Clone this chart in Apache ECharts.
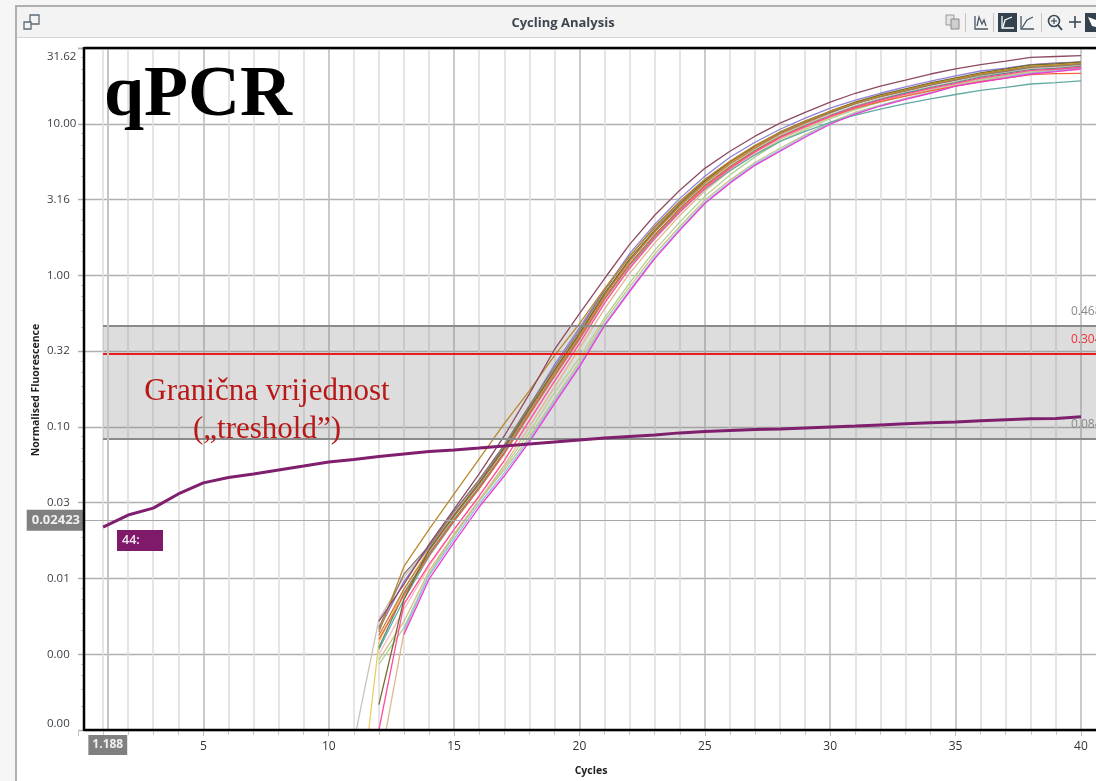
<!DOCTYPE html>
<html><head><meta charset="utf-8">
<style>html,body{margin:0;padding:0;background:#fff;overflow:hidden}#c{width:1096px;height:781px}</style>
<script src="https://cdn.jsdelivr.net/npm/echarts@6/dist/echarts.min.js"></script>
</head><body><div id="c"></div>
<script>
const cycles = [1,2,3,4,5,6,7,8,9,10,11,12,13,14,15,16,17,18,19,20,21,22,23,24,25,26,27,28,29,30,31,32,33,34,35,36,37,38,39,40];
const sample44 = [.0218,.0262,.0291,.0361,.0427,.0464,.0489,.0520,.0552,.0587,.0610,.0638,.0663,.0689,.0705,.0726,.0748,.0772,.0796,.0820,.0846,.0865,.0885,.0913,.0933,.0948,.0962,.0970,.0985,.1,.1015,.1031,.1047,.1063,.1079,.1096,.1113,.1130,.1138,.1165];
const ampCycles = [11,12,13,14,15,16,17,18,19,20,21,22,23,24,25,26,27,28,29,30,31,32,33,34,35,36,37,38,39,40];
const beige = [.00083,.00537,.0102,.0160,.0265,.0430,.0730,.130,.232,.405,.742,1.24,1.92,2.84,4.02,5.34,6.80,8.40,9.90,11.5,13.2,14.7,16.1,17.6,19.0,20.6,21.8,23.2,23.6,24.3];
const yellow = [.00014,.00378,.00850,.0158,.0262,.0425,.0722,.132,.236,.415,.76,1.27,1.98,2.92,4.14,5.52,7.05,8.73,10.4,12.1,13.9,15.5,16.9,18.5,20.0,21.6,22.9,24.4,24.8,25.5];
const tan = [null,.00055,.00441,.0107,.0196,.0330,.0560,.100,.182,.33,.60,1.03,1.63,2.48,3.60,4.90,6.30,7.90,9.40,11.0,12.6,14.0,15.4,16.8,18.2,19.7,20.9,22.2,22.6,23.3];
const lightPink = [null,.00315,.00625,.0120,.0210,.0350,.0600,.110,.200,.360,.670,1.13,1.78,2.67,3.81,5.10,6.54,8.12,9.60,11.1,12.7,14.1,15.4,16.8,18.1,19.5,20.6,21.9,22.2,22.8];
const lightGreen = [null,.00271,.00474,.0107,.0190,.0325,.0540,.0920,.168,.285,.525,.89,1.46,2.25,3.32,4.60,6.05,7.65,9.15,10.8,12.4,13.9,15.3,16.7,18.0,19.5,20.7,22.0,22.4,23.0];
const khaki = [null,.0029,.0052,.0112,.0195,.0325,.0520,.0860,.152,.268,.50,.84,1.38,2.10,3.14,4.25,5.55,6.9,8.45,10.2,11.9,13.3,14.7,16.1,17.9,19.1,20.4,21.7,22.6,23.5];
const lightBlue = [null,null,.0046,.0104,.0182,.0310,.0495,.0825,.147,.256,.478,.80,1.32,2.02,3.03,4.12,5.42,6.7,8.28,10.05,11.7,13.2,14.6,16.0,17.8,19.0,20.2,21.5,22.3,23.2];
const teal = [null,.0034,.00729,.0140,.0238,.0391,.0665,.120,.215,.378,.695,1.16,1.79,2.64,3.71,4.91,6.24,7.65,8.9,10.2,11.4,12.5,13.6,14.6,15.6,16.6,17.4,18.3,18.7,19.2];
const seaGreen = [null,.00350,.0080,.0146,.0245,.0400,.0680,.123,.220,.386,.710,1.19,1.85,2.75,3.91,5.21,6.65,8.24,9.73,11.3,13.0,14.5,15.9,17.3,18.7,20.3,21.5,22.8,23.2,23.9];
const redOrange = [null,.00396,.00776,.0143,.0240,.0391,.0665,.121,.217,.382,.702,1.18,1.83,2.72,3.87,5.16,6.59,8.16,9.63,11.2,12.7,14.0,15.2,16.5,17.7,19.0,20.0,21.1,21.4,21.5];
const orangeBrown = [null,.00420,.0085,.0152,.0256,.0416,.0708,.128,.229,.402,.738,1.24,1.93,2.87,4.07,5.43,6.93,8.58,10.1,11.8,13.6,15.1,16.5,18.1,19.5,21.1,22.3,23.8,24.2,24.9];
const hotPink = [null,.00100,.00676,.0124,.0211,.0350,.0600,.110,.200,.355,.655,1.11,1.74,2.61,3.75,5.05,6.49,8.09,9.58,11.2,12.9,14.3,15.7,17.1,18.5,20.0,21.2,22.5,22.9,23.6];
const purple = [null,.00461,.00957,.0161,.0278,.0446,.0748,.136,.257,.452,.805,1.39,2.17,3.22,4.50,6.01,7.55,9.20,10.9,12.7,14.3,15.9,17.5,19.1,20.7,22.3,23.3,24.6,25.2,25.5];
const grayBrown = [null,.00474,.0107,.0164,.0275,.0448,.0762,.138,.247,.433,.796,1.34,2.06,3.03,4.27,5.64,7.13,8.75,10.3,11.9,13.6,15.1,16.5,18.0,19.4,21.0,22.2,23.6,24.0,24.7];
const darkOlive = [null,.00147,.00729,.0155,.0262,.0427,.0727,.132,.236,.414,.76,1.28,1.98,2.95,4.19,5.59,7.13,8.83,10.4,12.1,13.9,15.5,17.0,18.6,20.1,21.7,23.0,24.5,24.9,25.6];
const gold = [null,.00441,.0120,.0211,.0361,.0614,.105,.173,.295,.480,.818,1.33,2.10,3.08,4.31,5.66,7.21,8.79,10.4,12.1,13.7,15.2,16.7,18.3,19.7,21.3,22.6,23.9,24.4,25.0];
const rose = [null,.00521,.00916,.0168,.0287,.0489,.0871,.165,.323,.558,.953,1.60,2.49,3.64,5.08,6.59,8.28,10.1,11.9,13.9,15.9,17.7,19.4,21.3,23.0,24.6,25.9,27.4,27.8,28.2];
const magenta = [null,null,.00427,.00988,.0173,.0296,.0474,.0796,.142,.249,.466,.782,1.29,1.98,2.98,4.05,5.32,6.59,8.15,9.93,11.6,13.1,14.5,15.9,17.7,18.8,20.0,21.3,22.1,23.0];

const yTicks = {min:0.001, max:31.6228};
const xRange = {min:0, max:40.6};
const thresholdValues = [0.468, 0.084];
const thresholdActive = 0.304;
const cursorX = 1.188, cursorY = 0.02423;
const xTickLabels = [5,10,15,20,25,30,35,40];

const ampSeries = [
 ['beige',beige,'#cbc1b8'],['yellow',yellow,'#e8d060'],['tan',tan,'#dcb88f'],['lightPink',lightPink,'#ffb6c0'],
 ['lightGreen',lightGreen,'#b4d296'],['khaki',khaki,'#c9c183'],['lightBlue',lightBlue,'#8dbdf0'],['teal',teal,'#62aaa2'],
 ['seaGreen',seaGreen,'#4f8f7f'],['redOrange',redOrange,'#f2643c'],['orangeBrown',orangeBrown,'#c97c3a'],['hotPink',hotPink,'#ff4f9a'],
 ['purple',purple,'#8f7fd8'],['grayBrown',grayBrown,'#8a7872'],['darkOlive',darkOlive,'#756a30'],['gold',gold,'#b8892c'],
 ['rose',rose,'#8e4a62'],['magenta',magenta,'#f03cd0']
];

const uiFont = '"Open Sans","Noto Sans",sans-serif';
const G = [];
const rect=(x,y,w,h,fill,z)=>G.push({type:'rect',silent:true,z:z||100,shape:{x,y,width:w,height:h},style:{fill}});
const line=(x1,y1,x2,y2,stroke,lw,z)=>G.push({type:'line',silent:true,z:z||101,shape:{x1,y1,x2,y2},style:{stroke,lineWidth:lw||1}});
const poly=(pts,stroke,lw)=>G.push({type:'polyline',silent:true,z:102,shape:{points:pts},style:{stroke,lineWidth:lw||1.3,fill:null}});
rect(0,0,15,781,'#f6f6f6'); rect(0,0,1096,6,'#f6f6f6');
rect(15,5,2,776,'#b0b0b0'); rect(15,5,1081,2,'#b0b0b0');
rect(17,7,1079,30,'#f3f3f3'); rect(17,37,1079,1,'#d4d4d4');
line(84,48,1096,48,'#000',2.5,90); line(84,47,84,731,'#000',2.5,90); line(84,730,1096,730,'#000',2.5,90);
G.push({type:'rect',silent:true,z:102,shape:{x:30,y:15,width:9,height:9},style:{fill:'none',stroke:'#5d6b78',lineWidth:1.3}});
G.push({type:'rect',silent:true,z:102,shape:{x:24,y:22,width:7,height:7},style:{fill:'#f3f3f3',stroke:'#5d6b78',lineWidth:1.3}});
G.push({type:'rect',silent:true,z:102,shape:{x:946,y:15,width:8,height:10},style:{fill:'#e4e4e4',stroke:'#9a9a9a',lineWidth:1}});
G.push({type:'rect',silent:true,z:102,shape:{x:951,y:19,width:8,height:10},style:{fill:'#cfcfcf',stroke:'#8a8a8a',lineWidth:1}});
[965.5,993.5,1041.5].forEach(x=>line(x,13,x,32,'#c4c4c4',1));
poly([[975,16],[975,29],[988,29]],'#4a5866');poly([[977,26],[979,17],[982,24],[984,20],[986,26]],'#4a5866');
rect(998,13,19,19,'#34424f');
poly([[1002,16],[1002,28],[1014,28]],'#fff');poly([[1003,27],[1005,20],[1012,17]],'#fff');
poly([[1021,16],[1021,29],[1034,29]],'#4a5866');poly([[1022,28],[1027,20],[1033,17]],'#4a5866');
G.push({type:'circle',silent:true,z:102,shape:{cx:1054,cy:21,r:5.5},style:{fill:'none',stroke:'#3c4a57',lineWidth:1.6}});
line(1058,25,1062,30,'#3c4a57',2,102); line(1051,21,1057,21,'#3c4a57',1.2,102); line(1054,18,1054,24,'#3c4a57',1.2,102);
line(1069,22,1081,22,'#3c4a57',1.6,102); line(1075,16,1075,28,'#3c4a57',1.6,102);
rect(1085,13,11,19,'#34424f');
G.push({type:'polygon',silent:true,z:103,shape:{points:[[1088,17],[1096,20],[1096,27],[1092,26]]},style:{fill:'#fff'}});
const txt=(x,y,text,font,fill,align,z)=>G.push({type:'text',silent:true,z:z||110,x,y,style:{text,font,fill,textAlign:align||'left',textVerticalAlign:'middle'}});
txt(563,23,'Cycling Analysis','bold 13px '+uiFont,'#3d4650','center');
txt(104,96,'qPCR','bold 72px "Liberation Serif"','#000');
txt(267,392,'Granična vrijednost','31px "Liberation Serif"','#b81818','center');
txt(267,430,'(„treshold”)','31px "Liberation Serif"','#b81818','center');
G.push({type:'text',silent:true,z:110,x:36,y:390,rotation:Math.PI/2,style:{text:'Normalised Fluorescence',font:'bold 10.5px '+uiFont,fill:'#222',textAlign:'center',textVerticalAlign:'middle'}});
txt(591,771,'Cycles','bold 10.5px '+uiFont,'#222','center');
txt(47,57,yTicks.max.toFixed(2),'11.5px '+uiFont,'#3a3f46');
rect(117,530,46,21,'#7f1a6a',105);
txt(122,540.5,'44:','600 12.5px '+uiFont,'#f2e6f0','left',110);

const series = ampSeries.map(([name,vals,color])=>({
  name,type:'line',symbol:'none',z:4,clip:true,silent:true,
  lineStyle:{color,width:1.3},
  data:ampCycles.map((c,i)=>[c,vals[i]])
}));
const thLine=(v,color)=>[{coord:[1,v],lineStyle:{color,width:2,type:'solid'},label:{show:false}},{coord:[xRange.max,v]}];
const thLabel=(v,color)=>({coord:[39.6,v],label:{show:true,formatter:v.toFixed(3),position:'right',distance:0,offset:[0,-14],color,fontSize:12,fontFamily:uiFont}});
series.unshift({
  name:'threshold',type:'line',symbol:'none',z:3,data:[],silent:true,
  markArea:{silent:true,itemStyle:{color:'rgba(120,120,120,0.25)'},
    data:[[{coord:[1,thresholdValues[0]]},{coord:[xRange.max,thresholdValues[1]]}]]},
  markLine:{silent:true,symbol:'none',animation:false,
    data:[thLine(thresholdValues[0],'#8a8a8a'),thLine(thresholdValues[1],'#8a8a8a'),thLine(thresholdActive,'#ea1c1c')]},
  markPoint:{silent:true,symbol:'circle',symbolSize:0,
    data:[thLabel(thresholdValues[0],'#8a8a8a'),thLabel(thresholdActive,'#f03030'),thLabel(thresholdValues[1],'#8a8a8a')]}
});
const boxLabel={show:true,backgroundColor:'#808080',color:'#f0f0f0',fontWeight:'bold',fontFamily:uiFont};
series.push({
  name:'cursor',type:'line',symbol:'none',z:2,data:[],silent:true,
  markLine:{silent:true,symbol:'none',animation:false,
    data:[
      [{coord:[cursorX,yTicks.min],lineStyle:{color:'#c4c4c4',width:2,type:'solid'},
        label:{...boxLabel,fontSize:12,formatter:cursorX.toFixed(3),position:'start',distance:5,padding:[4,4,4,4]}},
       {coord:[cursorX,yTicks.max]}],
      [{coord:[0.24,cursorY],lineStyle:{color:'#a8a8a8',width:1.2,type:'solid'},
        label:{...boxLabel,fontSize:13,formatter:cursorY.toFixed(5),position:'start',distance:-1,padding:[4,5,4,5]}},
       {coord:[xRange.max,cursorY]}]
    ]}
});
series.push({
  name:'44',type:'line',symbol:'none',z:6,silent:true,
  lineStyle:{color:'#7f1f6e',width:3},
  data:cycles.map((c,i)=>[c,sample44[i]])
});

const chart = echarts.init(document.getElementById('c'),null,{renderer:'canvas'});
chart.setOption({
  animation:false,backgroundColor:'#ffffff',
  grid:{left:78,top:48,right:0,height:682,containLabel:false,outerBoundsMode:'none'},
  xAxis:{type:'value',min:xRange.min,max:xRange.max,interval:5,
    axisLine:{show:false},
    axisTick:{show:true,length:6,lineStyle:{color:'#c0c0c0'}},
    minorTick:{show:true,splitNumber:5,length:5,lineStyle:{color:'#c8c8c8'}},
    axisLabel:{color:'#333',fontSize:12,fontFamily:uiFont,margin:11,
      formatter:v=>xTickLabels.includes(v)?String(v):''},
    splitLine:{show:true,showMinLine:false,showMaxLine:false,lineStyle:{color:'#bdbdbd',width:1.6}},
    minorSplitLine:{show:true,lineStyle:{color:'#dfdfdf',width:1.6}}
  },
  yAxis:{type:'log',logBase:Math.sqrt(10),min:yTicks.min,max:yTicks.max,offset:-6,
    axisLine:{show:false},axisTick:{show:false},
    minorTick:{show:true,splitNumber:5,length:3,lineStyle:{color:'#c8c8c8'}},
    axisLabel:{color:'#3a3f46',fontSize:11.5,fontFamily:uiFont,align:'left',margin:37,
      verticalAlignMinLabel:'bottom',
      formatter:v=>Number(v)>30?'':Number(v).toFixed(2)},
    splitLine:{show:true,lineStyle:{color:'#b0b0b0',width:1.4}}
  },
  graphic:G,
  series
});
</script></body></html>
